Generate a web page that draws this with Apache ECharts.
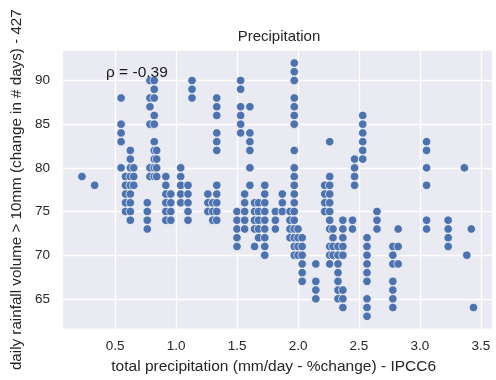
<!DOCTYPE html>
<html>
<head>
<meta charset="utf-8">
<script src="https://cdn.jsdelivr.net/npm/echarts@6/dist/echarts.min.js"></script>
<style>
html,body{margin:0;padding:0;background:#fff;}
#c{width:496px;height:380px;}
</style>
</head>
<body>
<div id="c"></div>
<script>
// column x positions (total precipitation, %change) and the y values stacked in each column
const colX = [0.227, 0.331, 0.548, 0.584, 0.624, 0.652, 0.763, 0.785, 0.82, 0.84,
  0.915, 0.956, 1.037, 1.097, 1.13, 1.26, 1.30, 1.333, 1.499, 1.529,
  1.562, 1.605, 1.643, 1.676, 1.727, 1.814, 1.871, 1.934, 1.969, 2.0,
  2.034, 2.146, 2.219, 2.26, 2.287, 2.328, 2.368, 2.447, 2.464, 2.531,
  2.566, 2.648, 2.778, 2.822, 3.055, 3.232, 3.365, 3.385, 3.422, 3.44];
const colY = [
  [79], [78], [88,85,84,83,80], [79,78,77,76,75], [82,81,80,79,78,77,76,75,74],
  [80,79,78], [76,75,74,73], [90,88,87,85,80,79], [90,89,88,86,85,83,82,81,80,79], [82,81,80,79],
  [79,78,77,76,75,74], [77,76,75,74], [80,79,78,77,76], [78,77,76,75,74], [90,89,88],
  [77,76,75], [76,75,74], [88,87,86,84,83,82,78,77,76,75,74], [75,74,73,72,71], [90,89,87,86,85,84],
  [77,76,75,74,73], [87,84,83,82,80,78], [76,75,74,73,71], [76,75,74,73,72], [78,77,76,75,74,73,72,71,70],
  [75,74,73], [77,76,75], [75,74,73,72], [92,91,90,88,87,86,85,82,80,79,78,77,76,75,74,73,72,71,70], [73,72,71,70],
  [72,71,70,69,68,67], [69,67,66,65], [78,77,76,75], [83,79,78,77,76,75,74,73,71,70,69], [73,72,71,70],
  [71,70,69,68,67,66,65], [74,73,72,71,70,66,65,64], [74,73], [81,80,79,78], [86,85,84,83,82,81],
  [72,71,70,69,68,67,65,64,63], [75,74,73], [71,70,69,67,66,65,64], [73,71,69], [83,82,80,78,74,73],
  [74,73,72,71], [80], [70], [73], [64]
];
const xTicks = [0.5, 1.0, 1.5, 2.0, 2.5, 3.0, 3.5];
const yTicks = [65, 70, 75, 80, 85, 90];
// visible plot limits (data units)
const xLim = [0.072, 3.591];
const yLim = [61.6, 93.4];
const rhoText = 'ρ = -0.39';
const titleText = 'Precipitation';
const xName = 'total precipitation (mm/day - %change) - IPCC6';
const yName = 'daily rainfall volume > 10mm (change in # days) - 427';

const points = [];
colX.forEach((x, i) => colY[i].forEach(y => points.push([x, y])));

const FONT = '"Liberation Sans", Arial, sans-serif';
const TXT = '#262626';
const chart = echarts.init(document.getElementById('c'), null, {renderer: 'canvas'});
chart.setOption({
  animation: false,
  backgroundColor: '#ffffff',
  grid: {left: 54.32, right: -0.29, top: 36.86, bottom: 34.16, show: false},
  xAxis: {
    type: 'value', min: 0, max: 3.6, interval: 0.5,
    name: xName, nameLocation: 'middle', nameGap: 16.5,
    nameTextStyle: {fontFamily: FONT, fontSize: 15.5, color: TXT},
    axisLine: {show: false}, axisTick: {show: false},
    axisLabel: {fontFamily: FONT, fontSize: 13.5, color: TXT, margin: -3,
      formatter: v => xTicks.some(t => Math.abs(t - v) < 1e-6) ? v.toFixed(1) : ''},
    splitLine: {show: true, lineStyle: {color: '#ffffff', width: 1.3}}
  },
  yAxis: {
    type: 'value', min: 60, max: 95, interval: 5,
    name: yName, nameLocation: 'middle', nameGap: 24,
    nameTextStyle: {fontFamily: FONT, fontSize: 15.2, color: TXT},
    axisLine: {show: false}, axisTick: {show: false},
    axisLabel: {fontFamily: FONT, fontSize: 13.5, color: TXT, margin: 4.3,
      formatter: v => yTicks.some(t => Math.abs(t - v) < 1e-6) ? String(v) : ''},
    splitLine: {show: true, lineStyle: {color: '#ffffff', width: 1.3}}
  },
  series: [{
    type: 'scatter', data: points, symbol: 'circle', symbolSize: 8.5,
    itemStyle: {color: '#4c72b0', borderColor: '#ffffff', borderWidth: 0.7, opacity: 1},
    z: 2
  }]
});
const p0 = chart.convertToPixel({gridIndex: 0}, [xLim[0], yLim[1]]);
const p1 = chart.convertToPixel({gridIndex: 0}, [xLim[1], yLim[0]]);
chart.setOption({
  graphic: [{
    type: 'rect', z: -100, silent: true,
    shape: {x: p0[0], y: p0[1], width: p1[0] - p0[0], height: p1[1] - p0[1]},
    style: {fill: '#eaeaf2'}
  }, {
    type: 'text', left: 237.7, top: 29, z: 100,
    style: {text: titleText, font: '15px "Liberation Sans", Arial, sans-serif', fill: TXT}
  }, {
    type: 'text', left: 106, top: 65, z: 100,
    style: {text: rhoText, font: '15.5px "Liberation Sans", Arial, sans-serif', fill: '#1a1a1a'}
  }]
});
</script>
</body>
</html>
